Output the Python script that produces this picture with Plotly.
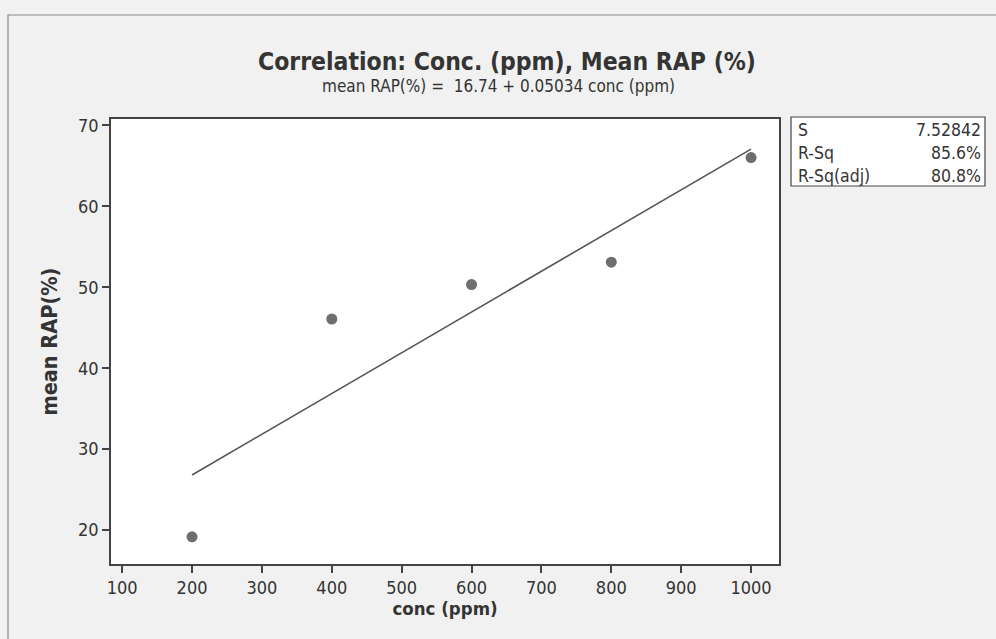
import numpy as np
import plotly.graph_objects as go

# Concentration levels and mean RAP observations
conc_ppm = [200, 400, 600, 800, 1000]
mean_rap = [19.16, 46.08, 50.34, 53.11, 66.03]

# Fitted regression line and summary statistics
intercept = 16.74
slope = 0.05034
stats_labels = ["S", "R-Sq", "R-Sq(adj)"]
stats_values = ["7.52842", "85.6%", "80.8%"]

x_ticks = [100, 200, 300, 400, 500, 600, 700, 800, 900, 1000]
y_ticks = [20, 30, 40, 50, 60, 70]

W, H = 996, 639
L, R, T, B = 111, 779, 119, 564  # plot-area pixel bounds


def px(x):
    return (x - L) / (R - L)


def py(y):
    return (B - y) / (B - T)


FONT = "DejaVu Sans Condensed, DejaVu Sans"
INK = "#343434"

fit_x = np.linspace(min(conc_ppm), max(conc_ppm), 50)
fit_y = intercept + slope * fit_x

fig = go.Figure()
fig.add_trace(go.Scatter(
    x=fit_x, y=fit_y, mode="lines",
    line=dict(color="#555555", width=1.6),
    hoverinfo="skip", showlegend=False,
))
fig.add_trace(go.Scatter(
    x=conc_ppm, y=mean_rap, mode="markers",
    marker=dict(color="#6e6e6e", size=11, line=dict(width=0)),
    showlegend=False,
))

shapes = []
# outer page frame
shapes.append(dict(type="rect", xref="paper", yref="paper",
                   x0=px(8), x1=px(1000), y0=py(645), y1=py(15),
                   line=dict(color="#8a8a8a", width=1.2), fillcolor="rgba(0,0,0,0)"))
# statistics box
box_x0, box_x1, box_y0, box_y1 = 791, 985, 117, 186
shapes.append(dict(type="rect", xref="paper", yref="paper",
                   x0=px(box_x0), x1=px(box_x1), y0=py(box_y1), y1=py(box_y0),
                   line=dict(color="#444444", width=1.2), fillcolor="white"))

annotations = [
    dict(text="<b>Correlation: Conc. (ppm), Mean RAP (%)</b>", xref="paper", yref="paper",
         x=px(507), y=py(62), showarrow=False, xanchor="center", yanchor="middle",
         font=dict(family=FONT, size=24.5, color=INK)),
    dict(text="mean RAP(%) =  16.74 + 0.05034 conc (ppm)", xref="paper", yref="paper",
         x=px(498), y=py(86), showarrow=False, xanchor="center", yanchor="middle",
         font=dict(family=FONT, size=17, color=INK)),
]
row_h = (box_y1 - box_y0) / 3
for i, (lab, val) in enumerate(zip(stats_labels, stats_values)):
    yc = box_y0 + i * row_h + row_h / 2 + 1
    annotations.append(dict(text=lab, xref="paper", yref="paper", x=px(796), y=py(yc),
                            showarrow=False, xanchor="left", yanchor="middle",
                            font=dict(family=FONT, size=17.5, color=INK)))
    annotations.append(dict(text=val, xref="paper", yref="paper", x=px(983), y=py(yc),
                            showarrow=False, xanchor="right", yanchor="middle",
                            font=dict(family=FONT, size=17.5, color=INK)))

fig.update_layout(
    width=W, height=H,
    margin=dict(l=L, r=W - R, t=T, b=H - B),
    paper_bgcolor="#f1f1f1",
    plot_bgcolor="white",
    font=dict(family=FONT, color=INK),
    shapes=shapes,
    annotations=annotations,
    showlegend=False,
)
fig.update_xaxes(
    range=[84.0, 1040.0], tickvals=x_ticks, ticks="outside", ticklen=7, tickwidth=1.5,
    tickcolor="#444444", showline=True, linecolor="#444444", linewidth=1.6, mirror=True,
    showgrid=False, zeroline=False, tickfont=dict(family=FONT, size=18, color=INK),
    title=dict(text="<b>conc (ppm)</b>", font=dict(family=FONT, size=18.5, color=INK), standoff=5),
)
fig.update_yaxes(
    range=[15.8, 70.8], tickvals=y_ticks, ticks="outside", ticklen=7, tickwidth=1.5,
    tickcolor="#444444", showline=True, linecolor="#444444", linewidth=1.6, mirror=True,
    showgrid=False, zeroline=False, tickfont=dict(family=FONT, size=18, color=INK),
    title=dict(text="<b>mean RAP(%)</b>", font=dict(family=FONT, size=21.5, color=INK), standoff=14),
)

fig.write_html("out.html")
